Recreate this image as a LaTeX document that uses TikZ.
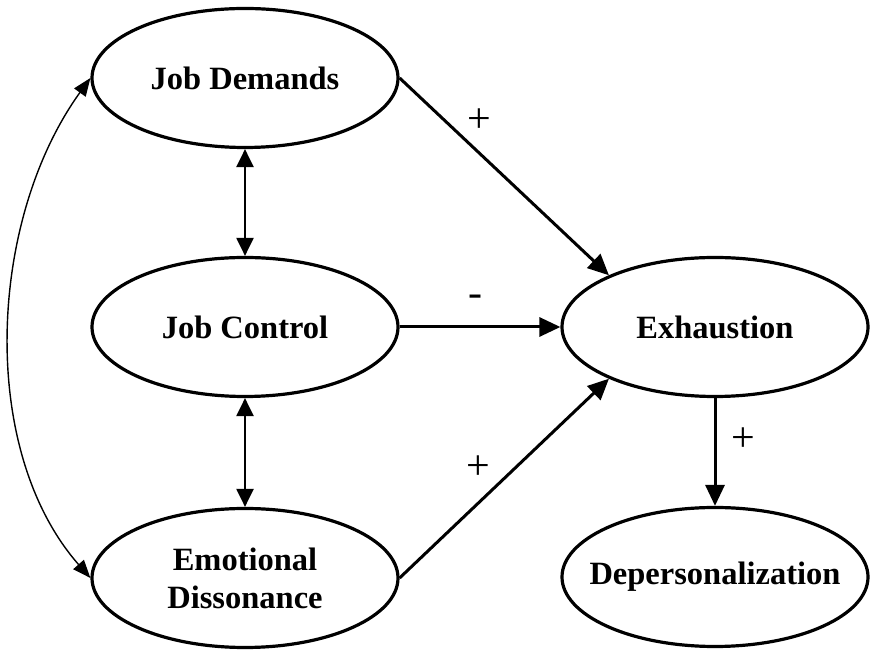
\documentclass[tikz,border=0pt]{standalone}
\usepackage{fontspec}
\setmainfont{Liberation Serif}
\usetikzlibrary{arrows.meta,shapes.geometric}

\tikzset{
  factor/.style={draw, ellipse, line width=3.2pt, minimum width=306pt, minimum height=139pt,
    inner xsep=-60pt, inner ysep=-20pt, align=center, font=\bfseries\fontsize{32.5}{38}\selectfont},
  path/.style={line width=3pt, -{Triangle[length=21pt,width=19pt]}},
  link/.style={line width=2.2pt, {Triangle[length=18pt,width=17pt]}-{Triangle[length=18pt,width=17pt]}},
  sign/.style={font=\fontsize{42}{42}\selectfont}
}

\begin{document}
\begin{tikzpicture}[x=1pt,y=1pt]
			%%%%% START %%%%%
			\useasboundingbox (0,0) rectangle (870,650);
			
			\node[factor] (demands) at (245,572) {Job Demands};
			\node[factor] (control) at (245,323) {Job Control};
			\node[factor] (dissonance) at (245,72) {Emotional\\Dissonance};
			\node[factor] (exhaustion) at (715,323) {Exhaustion};
			\node[factor] (depers) at (715,73) {Depersonalization};
			
			\draw[link] (demands.south) -- (control.north);
			\draw[link] (control.south) -- (dissonance.north);
			\draw[line width=1.4pt, {Triangle[length=18pt,width=14pt]}-{Triangle[length=18pt,width=14pt]}]
				(demands.west) .. controls (-12,430) and (-22,200) .. (dissonance.west);
			
			\draw[path] (demands.east) -- (exhaustion.154);
			\draw[path] (control.east) -- (exhaustion.west);
			\draw[path] (dissonance.east) -- (exhaustion.206);
			\draw[path] (exhaustion.south) -- (depers.north);
			
			\node[sign] (s1) at (479,529) {+};
			\node[sign] (s2) at (475,349) {-};
			\node[sign] (s3) at (478,182) {+};
			\node[sign] (s4) at (743,210) {+};
			%%%%% END %%%%%
\end{tikzpicture}
\end{document}
